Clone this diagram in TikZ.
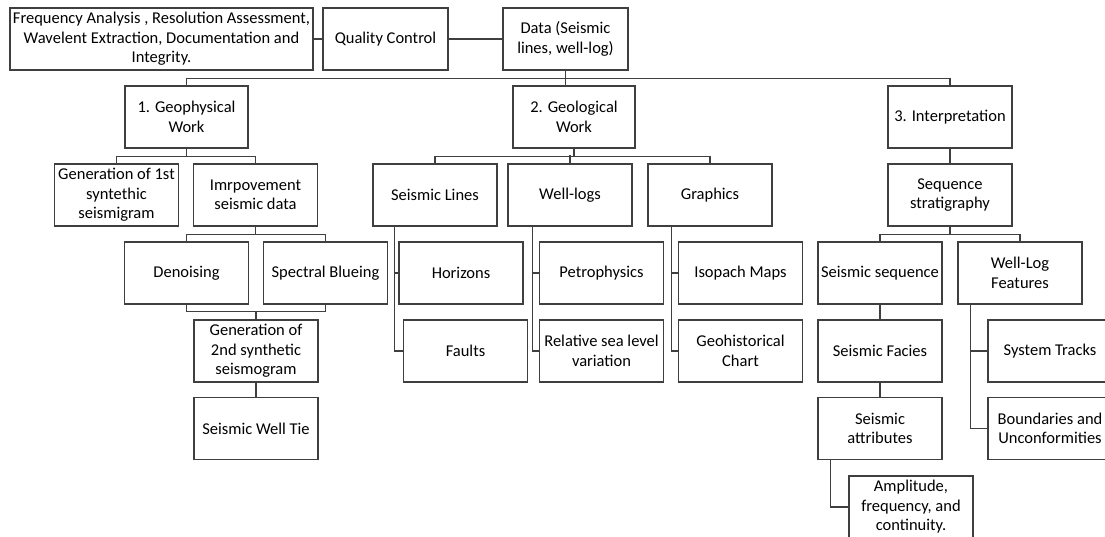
\documentclass[tikz,border=0pt]{standalone}
\usepackage{fontspec}
\setmainfont{Carlito}
\definecolor{lineclr}{HTML}{3F3F3F}
\tikzset{
  box/.style={draw=lineclr, line width=1.5pt, align=center, inner sep=1pt,
    minimum width=124pt, minimum height=62pt,
    font=\fontsize{16.5}{19.5}\selectfont},
  link/.style={draw=lineclr, line width=1.5pt}
}

\begin{document}
\begin{tikzpicture}[x=1pt,y=-1pt]
  \useasboundingbox (0,0) rectangle (1105,537);
  \clip (0,0) rectangle (1105,537);
  % top row
  \node[box,minimum width=303pt] (freq) at (161.5,39) {Frequency Analysis , Resolution Assessment,\\Wavelent Extraction, Documentation and\\Integrity.};
  \node[box,minimum width=125pt] (qc)   at (385.5,39) {Quality Control};
  \node[box,minimum width=125pt] (data) at (565.5,39) {Data (Seismic\\lines, well-log)};
  % main branches
  \node[box,minimum width=123pt] (geoA)   at (186.5,117) {1. Geophysical\\Work};
  \node[box,minimum width=122pt] (geoB)   at (574,117)   {2. Geological\\Work};
  \node[box]                     (interp) at (950,117)   {3. Interpretation};
  % geophysical work
  \node[box] (genA)  at (116.5,195) {Generation of 1st\\syntethic\\seismigram};
  \node[box] (impr)  at (255.5,195) {Imrpovement\\seismic data};
  \node[box] (denoi) at (186.5,273) {Denoising};
  \node[box] (spect) at (325.5,273) {Spectral Blueing};
  \node[box] (genB)  at (256,351)   {Generation of\\2nd synthetic\\seismogram};
  \node[box] (tie)   at (256,428.5) {Seismic Well Tie};
  % geological work
  \node[box] (slines)  at (435,195)   {Seismic Lines};
  \node[box] (wlogs)   at (570,195)   {Well-logs};
  \node[box] (graph)   at (710,195)   {Graphics};
  \node[box] (horiz)   at (461,273)   {Horizons};
  \node[box] (faults)  at (465.5,351) {Faults};
  \node[box] (petro)   at (601.5,273) {Petrophysics};
  \node[box] (relsea)  at (601.5,351) {Relative sea level\\variation};
  \node[box] (isopa)   at (740.5,273) {Isopach Maps};
  \node[box] (geohist) at (740.5,351) {Geohistorical\\Chart};
  % interpretation
  \node[box] (seqs)   at (950,195)   {Sequence\\stratigraphy};
  \node[box] (seisq)  at (880,273)   {Seismic sequence};
  \node[box] (wlfeat) at (1020,273)  {Well-Log\\Features};
  \node[box] (facies) at (880,351)   {Seismic Facies};
  \node[box] (systr)  at (1050,351)  {System Tracks};
  \node[box] (attrib) at (880,428.5) {Seismic\\attributes};
  \node[box] (bound)  at (1050,428.5) {Boundaries and\\Unconformities};
  \node[box] (ampl)   at (911,507)   {Amplitude,\\frequency, and\\continuity.};

  % connectors
  \draw[link] (freq) -- (qc);
  \draw[link] (qc) -- (data);
  \draw[link] (data.south) -- (data.south |- geoB.north);
  \draw[link] (geoA.north) |- ([yshift=-8pt]data.south) -| (interp.north);

  \draw[link] (geoA.south) -- ++(0,8);
  \draw[link] (genA.north) |- ([yshift=-8pt]geoA.south) -| (impr.north);
  \draw[link] (impr.south) -- ++(0,8);
  \draw[link] (denoi.north) |- ([yshift=-8pt]impr.south) -| (spect.north);
  \draw[link] (denoi.south) |- ([yshift=8pt]genB.north) -| (spect.south);
  \draw[link] (genB.north) -- ++(0,-8);
  \draw[link] (genB.south) -- (tie.north);

  \draw[link] (geoB.south) -- ++(0,8);
  \draw[link] (slines.north) |- ([yshift=-8pt]geoB.south) -| (graph.north);
  \draw[link] (wlogs.north) -- ++(0,-8);
  \draw[link] ([xshift=22pt]slines.south west) |- (faults.west);
  \draw[link] (horiz.west) -| ([xshift=22pt]slines.south west);
  \draw[link] ([xshift=25pt]wlogs.south west) |- (relsea.west);
  \draw[link] (petro.west) -| ([xshift=25pt]wlogs.south west);
  \draw[link] ([xshift=24pt]graph.south west) |- (geohist.west);
  \draw[link] (isopa.west) -| ([xshift=24pt]graph.south west);

  \draw[link] (interp.south) -- (seqs.north);
  \draw[link] (seqs.south) -- ++(0,8);
  \draw[link] (seisq.north) |- ([yshift=-8pt]seqs.south) -| (wlfeat.north);
  \draw[link] (seisq.south) -- (facies.north);
  \draw[link] (facies.south) -- (attrib.north);
  \draw[link] ([xshift=13pt]wlfeat.south west) |- (bound.west);
  \draw[link] (systr.west) -| ([xshift=13pt]wlfeat.south west);
  \draw[link] ([xshift=13pt]attrib.south west) |- (ampl.west);
\end{tikzpicture}
\end{document}
